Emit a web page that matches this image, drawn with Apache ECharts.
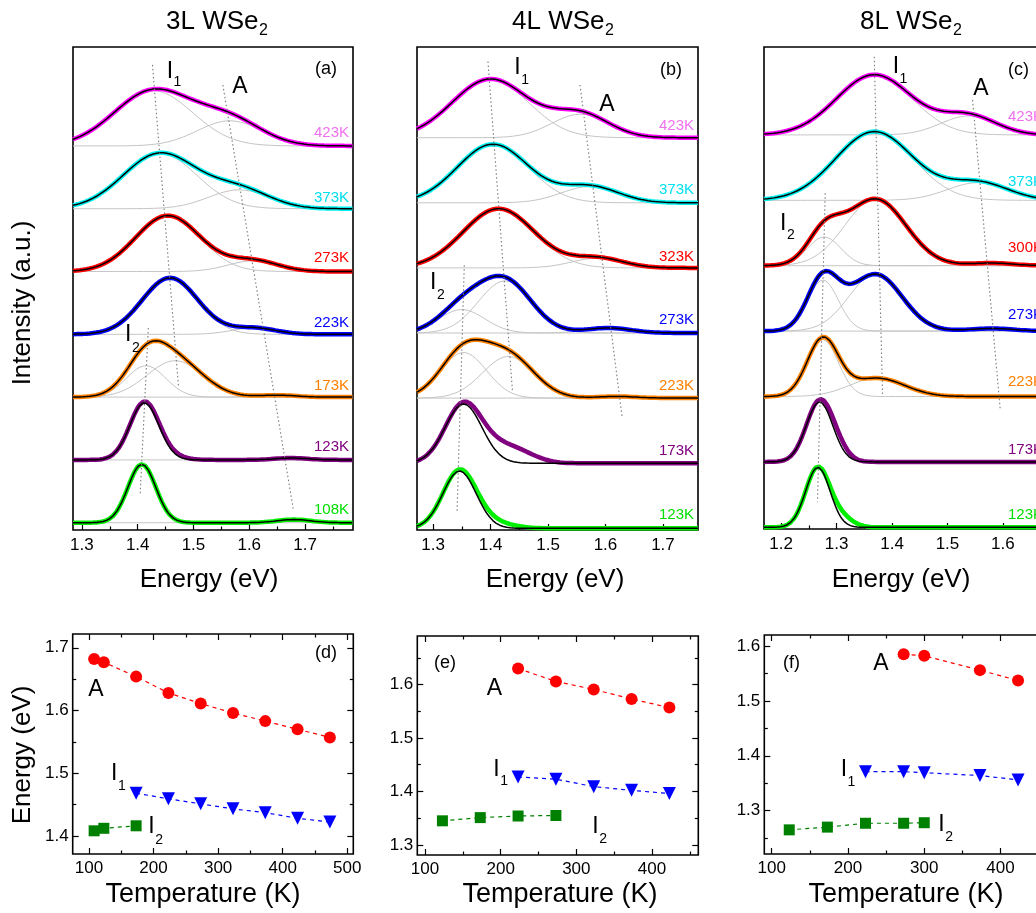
<!DOCTYPE html>
<html>
<head>
<meta charset="utf-8">
<title>WSe2 PL vs temperature</title>
<script src="https://cdn.jsdelivr.net/npm/echarts@6/dist/echarts.min.js"></script>
<style>
  html, body { margin: 0; padding: 0; background: #fff; }
  #chart { width: 1036px; height: 913px; }
</style>
</head>
<body>
<div id="chart"></div>
<script>
// ---------- data ----------
// spectra rows are listed top to bottom; each peak is [centre (eV), height, sigma (eV)]
// heights are in units of the stacking offset between two spectra
const temps3L = ['423K', '373K', '273K', '223K', '173K', '123K', '108K']
const fits3L = [
  [[1.428, 0.88, 0.070], [1.565, 0.40, 0.058]],
  [[1.440, 0.88, 0.066], [1.582, 0.30, 0.055]],
  [[1.454, 0.89, 0.058], [1.607, 0.17, 0.045]],
  [[1.458, 0.90, 0.050], [1.608, 0.10, 0.040]],
  [[1.415, 0.50, 0.035], [1.467, 0.58, 0.050], [1.650, 0.03, 0.035]],
  [[1.412, 0.91, 0.026], [1.675, 0.03, 0.030]],
  [[1.4075, 0.93, 0.025], [1.680, 0.05, 0.030]]
]
// extra signal in the measured spectra that the fit does not follow
const extras3L = [[], [], [], [], [], [[1.45, 0.05, 0.03]], []]

const temps4L = ['423K', '373K', '323K', '273K', '223K', '173K', '123K']
const fits4L = [
  [[1.3995, 0.90, 0.066], [1.556, 0.36, 0.050]],
  [[1.404, 0.90, 0.062], [1.573, 0.25, 0.050]],
  [[1.414, 0.91, 0.062], [1.586, 0.15, 0.045]],
  [[1.350, 0.36, 0.040], [1.425, 0.80, 0.046], [1.605, 0.077, 0.040]],
  [[1.353, 0.70, 0.040], [1.431, 0.64, 0.045], [1.620, 0.025, 0.035]],
  [[1.353, 0.91, 0.032]],
  [[1.346, 0.88, 0.029]]
]
const extras4L = [[], [], [], [], [], [[1.42, 0.22, 0.035], [1.46, 0.07, 0.03]], [[1.40, 0.09, 0.035]]]

const temps8L = ['423K', '373K', '300K', '273K', '223K', '173K', '123K']
const fits8L = [
  [[1.368, 0.92, 0.068], [1.538, 0.29, 0.050]],
  [[1.368, 1.05, 0.070], [1.555, 0.27, 0.055]],
  [[1.2776, 0.44, 0.030], [1.370, 1.02, 0.055], [1.580, 0.04, 0.040]],
  [[1.2753, 0.78, 0.028], [1.370, 0.87, 0.048], [1.580, 0.04, 0.040]],
  [[1.275, 0.87, 0.028], [1.373, 0.28, 0.050]],
  [[1.2692, 0.917, 0.024]],
  [[1.2662, 0.917, 0.022]]
]
const extras8L = [[], [], [], [], [], [[1.30, 0.13, 0.02]], [[1.31, 0.13, 0.02]]]

// dotted guides through the peaks: [energy, stack position]
const guides3L = [
  [[1.4265, 7.29], [1.473, 2.18]],
  [[1.419, 3.10], [1.4045, 0.47]],
  [[1.5527, 6.97], [1.679, 0.21]]
]
const guides4L = [
  [[1.3955, 7.17], [1.4382, 2.10]],
  [[1.3543, 4.04], [1.3417, 0.255]],
  [[1.5557, 6.81], [1.6292, 1.69]]
]
const guides8L = [
  [[1.3679, 7.196], [1.3829, 2.025]],
  [[1.2794, 5.107], [1.2655, 0.391]],
  [[1.5453, 6.535], [1.5953, 1.795]]
]

// peak energy vs temperature
const tempA3L = [108, 123, 173, 223, 273, 323, 373, 423, 473]
const energyA3L = [1.682, 1.677, 1.654, 1.628, 1.611, 1.596, 1.583, 1.570, 1.557]
const tempI13L = [173, 223, 273, 323, 373, 423, 473]
const energyI13L = [1.468, 1.459, 1.451, 1.443, 1.437, 1.428, 1.422]
const tempI23L = [108, 123, 173]
const energyI23L = [1.408, 1.412, 1.416]

const tempA4L = [223, 273, 323, 373, 423]
const energyA4L = [1.630, 1.606, 1.591, 1.573, 1.557]
const tempI14L = [223, 273, 323, 373, 423]
const energyI14L = [1.427, 1.423, 1.409, 1.402, 1.396]
const tempI24L = [123, 173, 223, 273]
const energyI24L = [1.345, 1.351, 1.354, 1.355]

const tempA8L = [273, 300, 373, 423]
const energyA8L = [1.585, 1.582, 1.556, 1.537]
const tempI18L = [223, 273, 300, 373, 423]
const energyI18L = [1.371, 1.371, 1.369, 1.364, 1.356]
const tempI28L = [123, 173, 223, 273, 300]
const energyI28L = [1.265, 1.270, 1.277, 1.277, 1.278]

// tick values
const ticksE1 = [1.3, 1.4, 1.5, 1.6, 1.7]
const ticksE1Minor = [1.35, 1.45, 1.55, 1.65, 1.75]
const ticksE2 = [1.2, 1.3, 1.4, 1.5, 1.6]
const ticksE2Minor = [1.25, 1.35, 1.45, 1.55, 1.65]
const ticksT1 = [100, 200, 300, 400, 500]
const ticksT2 = [100, 200, 300, 400]
const ticksTMinor = [150, 250, 350, 450]
const ticksYd = [1.4, 1.5, 1.6, 1.7]
const ticksYdMinor = [1.45, 1.55, 1.65]
const ticksYe = [1.3, 1.4, 1.5, 1.6]
const ticksYeMinor = [1.35, 1.45, 1.55, 1.65]
const ticksYfMinor = [1.25, 1.35, 1.45, 1.55]

// ---------- layout ----------
const FONT = '"Liberation Sans", Arial, Helvetica, sans-serif'
const rowColors = ['#ff00ff', '#00f0f0', '#ff0000', '#0000ff', '#ff8000', '#800080', '#00ee00']
const labelColors = ['#f070f0', '#00e0f0', '#ff0000', '#0000ff', '#ff8000', '#800080', '#00e000']

const frames = [
  { left: 73, top: 47, width: 280, height: 483 },
  { left: 417, top: 47, width: 281, height: 483 },
  { left: 764, top: 47, width: 281, height: 482 },
  { left: 72.7, top: 634, width: 280.6, height: 220 },
  { left: 417.3, top: 636, width: 281, height: 219 },
  { left: 764.3, top: 635, width: 281, height: 219 }
]

const spectra = [
  { temps: temps3L, fits: fits3L, extras: extras3L, guides: guides3L, x: [1.284, 1.786], y: [-0.116, 7.575], major: ticksE1, minor: ticksE1Minor },
  { temps: temps4L, fits: fits4L, extras: extras4L, guides: guides4L, x: [1.272, 1.761], y: [-0.026, 7.393], major: ticksE1, minor: ticksE1Minor },
  { temps: temps8L, fits: fits8L, extras: extras8L, guides: guides8L, x: [1.169, 1.676], y: [-0.026, 7.344], major: ticksE2, minor: ticksE2Minor }
]

const shifts = [
  { x: [74.8, 509.3], y: [1.371, 1.722], xMajor: ticksT1, yMajor: ticksYd, yMinor: ticksYdMinor,
    A: [tempA3L, energyA3L], I1: [tempI13L, energyI13L], I2: [tempI23L, energyI23L] },
  { x: [89.8, 461.2], y: [1.281, 1.691], xMajor: ticksT2, yMajor: ticksYe, yMinor: ticksYeMinor,
    A: [tempA4L, energyA4L], I1: [tempI14L, energyI14L], I2: [tempI24L, energyI24L] },
  { x: [90.3, 458.7], y: [1.221, 1.620], xMajor: ticksT2, yMajor: ticksYe, yMinor: ticksYfMinor,
    A: [tempA8L, energyA8L], I1: [tempI18L, energyI18L], I2: [tempI28L, energyI28L] }
]

function gauss(e, p) {
  return p[1] * Math.exp(-((e - p[0]) * (e - p[0])) / (2 * p[2] * p[2]))
}

function valueAxis(gridIndex, range, position, ticks, len, labels, margin) {
  return {
    type: 'value',
    gridIndex: gridIndex,
    min: range[0],
    max: range[1],
    position: position,
    axisLine: { show: false, onZero: false },
    splitLine: { show: false },
    axisTick: {
      show: ticks.length > 0,
      inside: true,
      length: len,
      customValues: ticks,
      lineStyle: { color: '#000', width: 1.2 }
    },
    axisLabel: labels
      ? { show: true, customValues: ticks, fontSize: 17, color: '#000', fontFamily: FONT, margin: margin }
      : { show: false }
  }
}

const grids = frames.map(f => ({
  left: f.left, top: f.top, width: f.width, height: f.height,
  show: true, borderColor: '#000', borderWidth: 1.6, backgroundColor: 'transparent',
  containLabel: false, outerBoundsMode: 'none'
}))

const xAxes = []
const yAxes = []
const series = []

// stacked spectra
spectra.forEach((sp, i) => {
  const xi = xAxes.length
  xAxes.push(valueAxis(i, sp.x, 'bottom', sp.major, 6, true, 7))
  xAxes.push(valueAxis(i, sp.x, 'bottom', sp.minor, 3.5, false))
  const yi = yAxes.length
  yAxes.push({ type: 'value', gridIndex: i, min: sp.y[0], max: sp.y[1], show: false, axisLine: { onZero: false } })

  const energies = []
  for (let e = sp.x[0]; e <= sp.x[1] + 1e-9; e += 0.003) energies.push(e)

  const line = (data, color, width, z) => ({
    type: 'line', xAxisIndex: xi, yAxisIndex: yi, data: data, symbol: 'none',
    lineStyle: { color: color, width: width }, z: z, silent: true, animation: false
  })

  sp.fits.forEach((peaks, r) => {
    const base = sp.fits.length - 1 - r
    peaks.forEach(p => {
      series.push(line(energies.map(e => [e, base + gauss(e, p)]), '#c4c4c4', 1, 2))
    })
    const fit = e => peaks.reduce((s, p) => s + gauss(e, p), 0)
    const extra = e => sp.extras[r].reduce((s, p) => s + gauss(e, p), 0)
    series.push(line(energies.map(e => [e, base + fit(e) + extra(e)]), rowColors[r], 4.5, 3))
    series.push(line(energies.map(e => [e, base + fit(e)]), '#000', 1.5, 4))
  })

  sp.guides.forEach(g => {
    series.push({
      type: 'line', xAxisIndex: xi, yAxisIndex: yi, data: g, symbol: 'none',
      lineStyle: { color: '#7a7a7a', width: 1.1, type: [1.5, 2.5] }, z: 5, silent: true, animation: false
    })
  })
})

// peak positions vs temperature
shifts.forEach((sh, j) => {
  const g = 3 + j
  const xi = xAxes.length
  xAxes.push(valueAxis(g, sh.x, 'bottom', sh.xMajor, 6, true, 6))
  xAxes.push(valueAxis(g, sh.x, 'bottom', ticksTMinor, 3.5, false))
  xAxes.push(valueAxis(g, sh.x, 'top', sh.xMajor, 6, false))
  xAxes.push(valueAxis(g, sh.x, 'top', ticksTMinor, 3.5, false))
  const yi = yAxes.length
  yAxes.push(valueAxis(g, sh.y, 'left', sh.yMajor, 6, true, 4))
  yAxes.push(valueAxis(g, sh.y, 'left', sh.yMinor, 3.5, false))
  yAxes.push(valueAxis(g, sh.y, 'right', sh.yMajor, 6, false))
  yAxes.push(valueAxis(g, sh.y, 'right', sh.yMinor, 3.5, false))

  const pts = (s, color, symbol, size, rotate) => ({
    type: 'line', xAxisIndex: xi, yAxisIndex: yi,
    data: s[0].map((t, k) => [t, s[1][k]]),
    symbol: symbol, symbolSize: size, symbolRotate: rotate,
    itemStyle: { color: color, borderWidth: 0 },
    lineStyle: { color: color, width: 1.2, type: [4, 4] },
    showSymbol: true, z: 3, silent: true, animation: false
  })
  series.push(pts(sh.A, '#ff0000', 'circle', 12, 0))
  series.push(pts(sh.I1, '#0000ff', 'triangle', 13, 180))
  series.push(pts(sh.I2, '#008000', 'rect', 11, 0))
})

// ---------- text ----------
const measure = document.createElement('canvas').getContext('2d')

function txt(x, y, s, size, color, align, rot) {
  return {
    type: 'text', x: x, y: y, rotation: rot || 0, silent: true, z: 10,
    style: {
      text: s, fontSize: size, fontFamily: FONT, fill: color || '#000',
      align: align || 'left', verticalAlign: 'middle'
    }
  }
}

function withSub(x, y, main, sub, size, subSize, dy) {
  measure.font = size + 'px ' + FONT
  const w = measure.measureText(main).width
  return [txt(x, y, main, size), txt(x + w + 0.5, y + dy, sub, subSize)]
}

const graphic = []
// panel titles
graphic.push(...withSub(166, 22, '3L WSe', '2', 26, 16, 9))
graphic.push(...withSub(512, 22, '4L WSe', '2', 26, 16, 9))
graphic.push(...withSub(860, 22, '8L WSe', '2', 26, 16, 9))

// axis titles
graphic.push(txt(23, 303, 'Intensity (a.u.)', 26, '#000', 'center', Math.PI / 2))
graphic.push(txt(23, 755, 'Energy (eV)', 26, '#000', 'center', Math.PI / 2))
;[209, 555, 901].forEach(x => graphic.push(txt(x, 580, 'Energy (eV)', 26, '#000', 'center')))
;[203, 560, 906].forEach(x => graphic.push(txt(x, 895, 'Temperature (K)', 27, '#000', 'center')))

// panel letters
graphic.push(txt(315, 69, '(a)', 18))
graphic.push(txt(660, 70, '(b)', 18))
graphic.push(txt(1008, 70, '(c)', 18))
graphic.push(txt(315, 653, '(d)', 18))
graphic.push(txt(434, 663, '(e)', 18))
graphic.push(txt(783, 663, '(f)', 18))

// peak names in the spectra
graphic.push(...withSub(166.7, 71.7, 'I', '1', 23, 14, 10))
graphic.push(txt(232.3, 86.7, 'A', 23))
graphic.push(...withSub(125, 335, 'I', '2', 23, 14, 13))
graphic.push(...withSub(514.3, 68, 'I', '1', 23, 14, 12))
graphic.push(txt(599.3, 105, 'A', 23))
graphic.push(...withSub(430, 283, 'I', '2', 23, 14, 12))
graphic.push(...withSub(892.7, 66.7, 'I', '1', 23, 14, 12))
graphic.push(txt(973.3, 88.3, 'A', 23))
graphic.push(...withSub(780, 223.3, 'I', '2', 23, 14, 12))

// peak names in the energy plots
graphic.push(txt(88.3, 690, 'A', 23))
graphic.push(...withSub(111, 773.3, 'I', '1', 23, 14, 13))
graphic.push(...withSub(148.3, 826.7, 'I', '2', 23, 14, 13))
graphic.push(txt(486.7, 689, 'A', 23))
graphic.push(...withSub(493.3, 769.3, 'I', '1', 23, 14, 12))
graphic.push(...withSub(592.3, 826.7, 'I', '2', 23, 14, 12))
graphic.push(txt(873.3, 664, 'A', 23))
graphic.push(...withSub(840.7, 770, 'I', '1', 23, 14, 12))
graphic.push(...withSub(938.3, 825, 'I', '2', 23, 14, 12))

// temperature labels on the right of each spectrum
const labelRows = [
  { x: 349, ys: [132.7, 198, 258, 323, 386, 446.7, 510], temps: temps3L },
  { x: 694, ys: [126, 190, 256.7, 320, 386, 450.7, 515], temps: temps4L },
  { x: 1043, ys: [116.7, 181.7, 248.3, 315, 381.7, 450, 515], temps: temps8L }
]
labelRows.forEach(lr => {
  lr.temps.forEach((t, r) => graphic.push(txt(lr.x, lr.ys[r], t, 15, labelColors[r], 'right')))
})

const chart = echarts.init(document.getElementById('chart'), null, { renderer: 'canvas' })
chart.setOption({
  animation: false,
  backgroundColor: '#fff',
  textStyle: { fontFamily: FONT },
  grid: grids,
  xAxis: xAxes,
  yAxis: yAxes,
  series: series,
  graphic: graphic
})
</script>
</body>
</html>
